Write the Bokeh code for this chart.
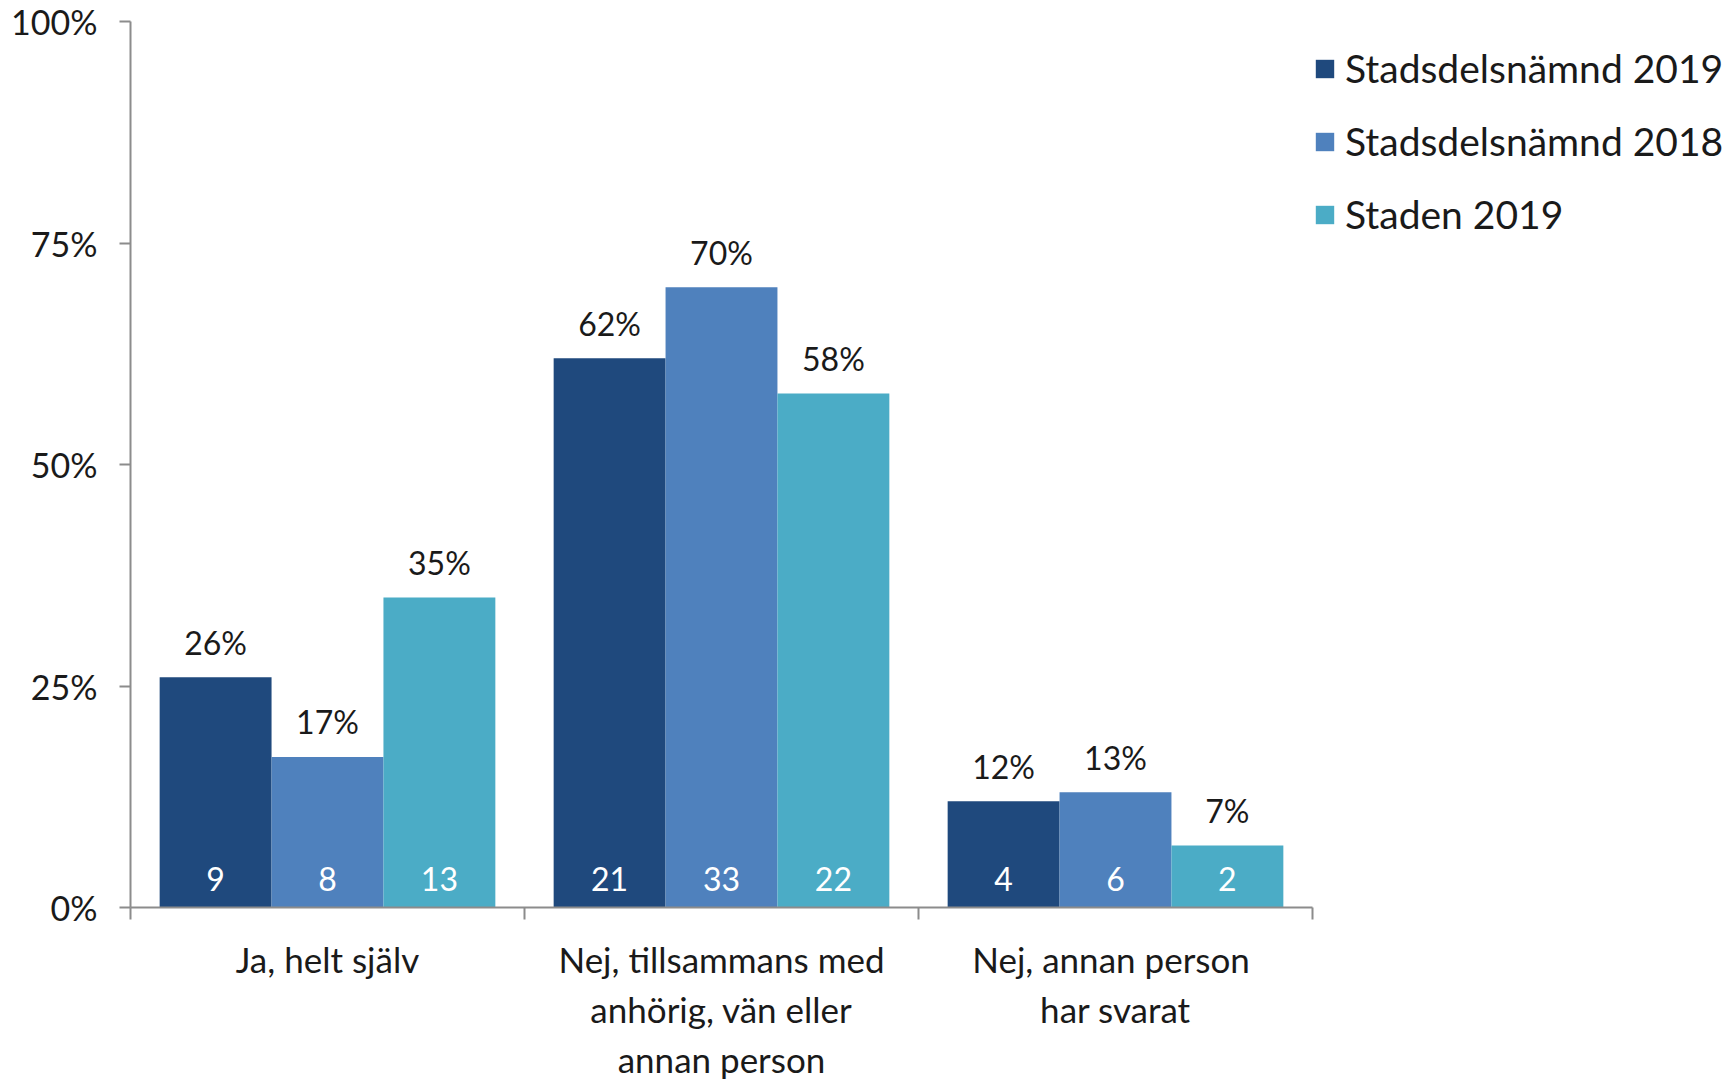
from bokeh.plotting import figure
from bokeh.models import ColumnDataSource, FixedTicker, PrintfTickFormatter, Legend, LegendItem, Range1d
from bokeh.core.properties import value
from bokeh.embed import file_html
from bokeh.resources import INLINE

categories = ["Ja, helt själv", "Nej, tillsammans med\nanhörig, vän eller\nannan person", "Nej,  annan person\nhar svarat"]
series = ["Stadsdelsnämnd 2019", "Stadsdelsnämnd 2018", "Staden 2019"]
pct_sdn2019 = [26, 62, 12]
pct_sdn2018 = [17, 70, 13]
pct_staden2019 = [35, 58, 7]
n_sdn2019 = [9, 21, 4]
n_sdn2018 = [8, 33, 6]
n_staden2019 = [13, 22, 2]
colors = ["#1F497D", "#4F81BD", "#4BACC6"]

FONT = "Lato"
bar_w = 0.284
offsets = [-bar_w, 0.0, bar_w]

p = figure(frame_width=1182, frame_height=886, output_backend="svg", toolbar_location=None,
           x_range=Range1d(0, 3), y_range=Range1d(0, 100),
           min_border_left=130, min_border_right=419, min_border_top=21, min_border_bottom=178)
p.outline_line_color = None
p.xgrid.visible = False
p.ygrid.visible = False

renderers = []
for pcts, ns, off, col in zip([pct_sdn2019, pct_sdn2018, pct_staden2019],
                              [n_sdn2019, n_sdn2018, n_staden2019], offsets, colors):
    xs = [i + 0.5 + off for i in range(len(categories))]
    src = ColumnDataSource(dict(x=xs, top=pcts, lab=[f"{v}%" for v in pcts],
                                n=[str(v) for v in ns], zero=[0] * len(pcts)))
    r = p.vbar(x="x", top="top", width=bar_w, source=src, fill_color=col, line_color=None)
    renderers.append(r)
    p.text(x="x", y="top", text="lab", source=src, text_align="center", text_baseline="middle",
           y_offset=-35, text_font_size="32px", text_color="#1a1a1a", text_font=value(FONT))
    p.text(x="x", y="zero", text="n", source=src, text_align="center", text_baseline="middle",
           y_offset=-29, text_font_size="32px", text_color="white", text_font=value(FONT))

# y axis
ya = p.yaxis[0]
ya.ticker = FixedTicker(ticks=[0, 25, 50, 75, 100], minor_ticks=[])
ya.formatter = PrintfTickFormatter(format="%d%%")
ya.axis_line_color = "#8c8c8c"
ya.axis_line_width = 2
ya.major_tick_line_color = "#8c8c8c"
ya.major_tick_line_width = 2
ya.major_tick_out = 11
ya.major_tick_in = 0
ya.minor_tick_line_color = None
ya.major_label_text_font = FONT
ya.major_label_text_font_size = "34px"
ya.major_label_text_color = "#1a1a1a"
ya.major_label_standoff = 22

# x axis
xa = p.xaxis[0]
xa.ticker = FixedTicker(ticks=[0.5, 1.5, 2.5], minor_ticks=[0, 1, 2, 3])
xa.major_label_overrides = {i + 0.5: c for i, c in enumerate(categories)}
xa.axis_line_color = "#8c8c8c"
xa.axis_line_width = 2
xa.major_tick_line_color = None
xa.major_tick_out = 0
xa.major_tick_in = 0
xa.minor_tick_line_color = "#8c8c8c"
xa.minor_tick_line_width = 2
xa.minor_tick_out = 12
xa.minor_tick_in = 0
xa.major_label_text_font = FONT
xa.major_label_text_font_size = "35px"
xa.major_label_text_color = "#1a1a1a"
xa.major_label_standoff = 18

legend = Legend(items=[LegendItem(label=s, renderers=[r]) for s, r in zip(series, renderers)],
                location=(1, 670), orientation="vertical")
legend.label_text_font = FONT
legend.label_text_font_size = "39px"
legend.label_text_color = "#1a1a1a"
legend.glyph_width = 23
legend.glyph_height = 23
legend.label_height = 46
legend.spacing = 27
legend.label_standoff = 9
legend.padding = 0
legend.margin = 0
legend.border_line_color = None
legend.background_fill_alpha = 0
p.add_layout(legend, "right")

open("out.html", "w").write(file_html(p, INLINE))
